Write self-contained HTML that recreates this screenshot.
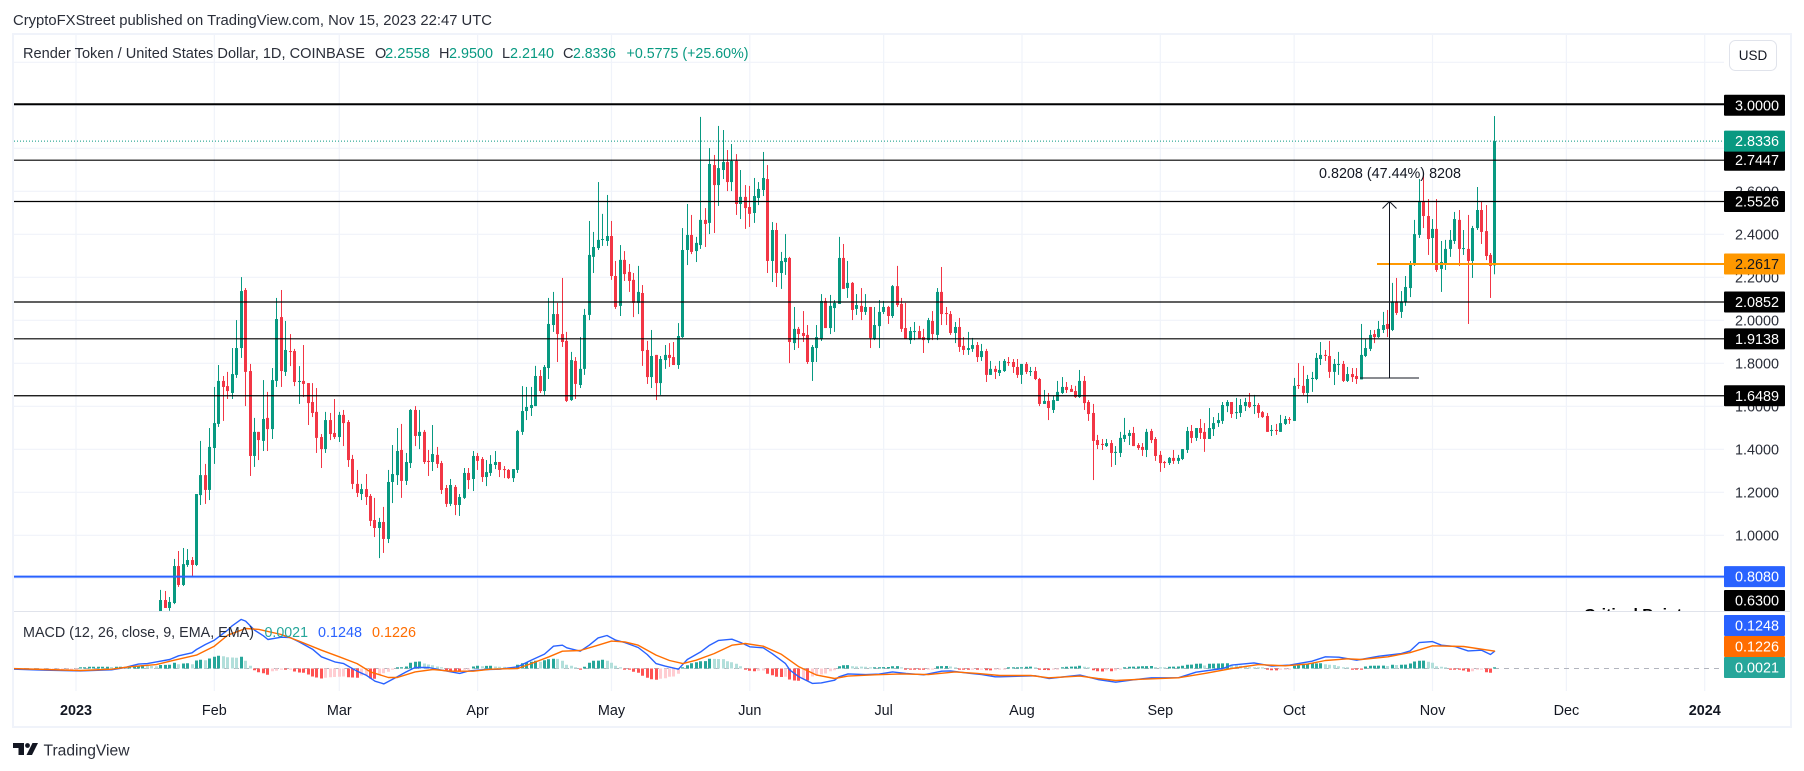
<!DOCTYPE html>
<html lang="en">
<head>
<meta charset="utf-8">
<title>Render Token / United States Dollar</title>
<style>
html,body{margin:0;padding:0;background:#fff;width:1804px;height:771px;overflow:hidden}
svg{display:block;font-family:"Liberation Sans",Arial,sans-serif}
</style>
</head>
<body>
<svg id="chart" width="1804" height="771" viewBox="0 0 1804 771" xmlns="http://www.w3.org/2000/svg">
  <defs>
    <clipPath id="mainClip"><rect x="14" y="35" width="1710" height="576"/></clipPath>
    <clipPath id="macdClip"><rect x="14" y="612" width="1710" height="80"/></clipPath>
  </defs>
  <rect x="0" y="0" width="1804" height="771" fill="#ffffff"/>
  <text x="13" y="25" font-size="14.5" fill="#2a2e39" textLength="479" lengthAdjust="spacingAndGlyphs">CryptoFXStreet published on TradingView.com, Nov 15, 2023 22:47 UTC</text>

  <g id="gridLayer"></g>
  <g id="candleLayer" clip-path="url(#mainClip)"></g>
  <g id="levelLayer" clip-path="url(#mainClip)"></g>
  <g id="measureLayer" clip-path="url(#mainClip)"></g>
  <text x="1584" y="619" font-size="15" font-weight="700" fill="#000000" textLength="98" lengthAdjust="spacingAndGlyphs" clip-path="url(#mainClip)">Critical Point</text>

  <g id="histLayer" clip-path="url(#macdClip)"></g>
  <g id="macdLayer" clip-path="url(#macdClip)"></g>

  <rect x="12" y="33" width="1780" height="2" fill="#f0f3fa"/>
  <rect x="12" y="33" width="2" height="695" fill="#f0f3fa"/>
  <rect x="1790" y="33" width="2" height="695" fill="#f0f3fa"/>
  <rect x="12" y="726" width="1780" height="2" fill="#f0f3fa"/>
  <rect x="14" y="611" width="1776" height="1" fill="#e0e3eb"/>

  <g id="axisLayer"></g>
  <g id="labelLayer"></g>

  <g font-size="14.5">
    <text x="23" y="58" fill="#2a2e39" textLength="342" lengthAdjust="spacingAndGlyphs">Render Token / United States Dollar, 1D, COINBASE</text>
    <text x="375" y="58" fill="#2a2e39">O</text>
    <text x="385" y="58" fill="#089981" textLength="45" lengthAdjust="spacingAndGlyphs">2.2558</text>
    <text x="439" y="58" fill="#2a2e39">H</text>
    <text x="449" y="58" fill="#089981" textLength="44" lengthAdjust="spacingAndGlyphs">2.9500</text>
    <text x="502" y="58" fill="#2a2e39">L</text>
    <text x="510" y="58" fill="#089981" textLength="44" lengthAdjust="spacingAndGlyphs">2.2140</text>
    <text x="563" y="58" fill="#2a2e39">C</text>
    <text x="573" y="58" fill="#089981" textLength="43" lengthAdjust="spacingAndGlyphs">2.8336</text>
    <text x="626.5" y="58" fill="#089981" textLength="122" lengthAdjust="spacingAndGlyphs">+0.5775 (+25.60%)</text>
  </g>
  <g font-size="14.5">
    <text x="23" y="637" fill="#2a2e39" textLength="231" lengthAdjust="spacingAndGlyphs">MACD (12, 26, close, 9, EMA, EMA)</text>
    <text x="264.5" y="637" fill="#26a69a" textLength="43.5" lengthAdjust="spacingAndGlyphs">0.0021</text>
    <text x="318" y="637" fill="#2962ff" textLength="44" lengthAdjust="spacingAndGlyphs">0.1248</text>
    <text x="372" y="637" fill="#ff6d00" textLength="44" lengthAdjust="spacingAndGlyphs">0.1226</text>
  </g>

  <g>
    <rect x="1729.5" y="40.5" width="47" height="30" rx="6" fill="#ffffff" stroke="#e0e3eb"/>
    <text x="1753" y="60" font-size="13.5" fill="#131722" text-anchor="middle">USD</text>
  </g>

  <g font-size="14.4" text-anchor="middle" fill="#ffffff">
    <rect x="1724" y="615" width="61" height="21" rx="1" fill="#2962ff"/>
    <text x="1757" y="630.5">0.1248</text>
    <rect x="1724" y="636" width="61" height="21" rx="1" fill="#ff6d00"/>
    <text x="1757" y="651.5">0.1226</text>
    <rect x="1724" y="657" width="61" height="21" rx="1" fill="#26a69a"/>
    <text x="1757" y="672.5">0.0021</text>
  </g>

  <g>
    <polygon points="13,743 24,743 24,755 18.5,755 18.5,748 13,748" fill="#131722"/>
    <circle cx="27.5" cy="745.5" r="2.4" fill="#131722"/>
    <polygon points="32.5,743 38,743 32,755 26.5,755" fill="#131722"/>
    <text x="43.5" y="755.5" font-size="15.5" fill="#2a2e39" textLength="86" lengthAdjust="spacingAndGlyphs">TradingView</text>
  </g>
</svg>
<script>
// ---- Data ----
const firstCandleDay = 15; // days since 2023-01-01 of the first entry below
const opens = [
.55,.56,.55,.58,.606,
.699,.662,.685,.857,.769,.862,.885,.862,1.187,1.280,
1.211,1.406,1.518,1.718,1.694,1.662,1.746,1.871,2.141,1.764,
1.369,1.481,1.439,1.546,1.494,1.718,2.015,1.760,1.857,1.857,
1.713,1.718,1.708,1.620,1.574,1.457,1.401,1.536,1.476,1.457,
1.560,1.527,1.355,1.239,1.192,1.215,1.183,1.071,1.034,1.062,
.983,1.248,1.280,1.397,1.253,1.336,1.583,1.462,1.481,1.346,
1.341,1.374,1.336,1.220,1.146,1.225,1.141,1.174,1.290,1.262,
1.369,1.355,1.271,1.290,1.327,1.341,1.308,1.304,1.266,1.304,
1.481,1.578,1.592,1.601,1.741,1.671,1.778,1.978,2.029,1.936,
1.904,1.629,1.811,1.699,1.774,2.025,2.295,2.336,2.374,2.369,
2.392,2.206,2.067,2.281,2.225,2.188,2.081,2.127,1.862,1.736,
1.839,1.708,1.815,1.839,1.829,1.792,1.922,2.327,2.397,2.322,
2.350,2.467,2.453,2.722,2.629,2.699,2.736,2.643,2.741,2.541,
2.574,2.527,2.499,2.569,2.606,2.657,2.276,2.420,2.220,2.271,
2.290,1.894,1.960,1.941,1.932,1.806,1.871,1.913,2.090,1.964,
2.057,2.076,2.290,2.150,2.174,2.053,2.067,2.039,2.062,1.913,
1.973,2.039,2.062,2.020,2.159,2.076,1.964,1.908,1.946,1.950,
1.922,1.908,1.997,1.932,2.132,2.034,2.029,1.941,1.969,1.881,
1.862,1.867,1.885,1.829,1.857,1.746,1.774,1.755,1.764,1.806,
1.806,1.783,1.746,1.797,1.760,1.764,1.727,1.611,1.625,1.583,
1.625,1.662,1.690,1.681,1.671,1.643,1.718,1.620,1.569,1.443,
1.425,1.415,1.429,1.383,1.383,1.448,1.462,1.476,1.420,1.411,
1.397,1.485,1.448,1.374,1.341,1.336,1.360,1.346,1.355,1.397,
1.485,1.453,1.499,1.481,1.448,1.494,1.522,1.532,1.601,1.620,
1.569,1.569,1.601,1.620,1.601,1.606,1.573,1.555,1.485,1.490,
1.481,1.518,1.541,1.532,1.699,1.695,1.662,1.727,1.727,1.820,
1.839,1.834,1.760,1.792,1.797,1.718,1.750,1.741,1.725,1.834,
1.867,1.936,1.922,1.955,1.983,1.955,2.088,2.039,2.085,2.150,
2.257,2.397,2.555,2.485,2.383,2.425,2.239,2.266,2.332,2.369,
2.467,2.332,2.332,2.276,2.429,2.513,2.415,2.304,2.2558];
const highs = [
.645,.62,.62,.63,.746,
.741,.713,.890,.927,.941,.936,.899,1.192,1.439,1.332,
1.499,1.690,1.792,1.741,1.760,1.871,2.001,2.201,2.150,1.797,
1.546,1.481,1.722,1.667,1.778,2.104,2.141,1.997,1.936,1.867,
1.787,1.885,1.708,1.708,1.685,1.471,1.574,1.569,1.634,1.574,
1.583,1.536,1.374,1.304,1.239,1.285,1.192,1.174,1.081,1.132,
1.304,1.420,1.499,1.518,1.383,1.587,1.601,1.583,1.490,1.397,
1.513,1.411,1.346,1.234,1.262,1.234,1.192,1.313,1.313,1.392,
1.383,1.364,1.350,1.373,1.392,1.341,1.322,1.308,1.308,1.490,
1.694,1.690,1.690,1.788,1.769,1.792,2.104,2.132,2.081,2.197,
1.946,1.853,1.829,1.922,2.053,2.462,2.411,2.643,2.495,2.583,
2.462,2.276,2.350,2.322,2.262,2.220,2.253,2.164,1.904,1.955,
1.839,1.834,1.885,1.894,1.899,1.987,2.429,2.541,2.490,2.388,
2.946,2.522,2.801,2.769,2.904,2.885,2.792,2.820,2.773,2.699,
2.629,2.625,2.662,2.643,2.783,2.722,2.457,2.453,2.318,2.401,
2.295,2.062,1.969,2.043,1.978,1.885,1.978,2.122,2.104,2.118,
2.094,2.388,2.355,2.276,2.178,2.122,2.150,2.122,2.062,2.062,
2.094,2.090,2.067,2.164,2.253,2.104,2.081,1.969,1.992,1.974,
1.960,2.011,2.043,2.150,2.248,2.062,2.043,1.992,2.011,1.922,
1.946,1.918,1.899,1.890,1.867,1.811,1.788,1.811,1.820,1.829,
1.820,1.820,1.797,1.806,1.783,1.783,1.732,1.676,1.662,1.648,
1.718,1.736,1.713,1.699,1.695,1.769,1.741,1.629,1.611,1.467,
1.448,1.448,1.443,1.415,1.481,1.546,1.490,1.504,1.429,1.429,
1.495,1.495,1.457,1.392,1.346,1.364,1.397,1.374,1.401,1.504,
1.513,1.499,1.541,1.522,1.592,1.550,1.569,1.620,1.629,1.620,
1.639,1.634,1.639,1.662,1.653,1.615,1.578,1.569,1.513,1.518,
1.560,1.555,1.550,1.732,1.801,1.788,1.746,1.760,1.848,1.899,
1.862,1.904,1.820,1.853,1.811,1.783,1.778,1.778,1.983,1.913,
1.955,1.955,1.997,2.039,2.048,2.174,2.197,2.136,2.206,2.276,
2.467,2.657,2.676,2.564,2.471,2.564,2.369,2.374,2.420,2.504,
2.513,2.420,2.490,2.439,2.620,2.555,2.536,2.313,2.95];
const lows = [
.50,.50,.52,.54,.58,
.662,.649,.680,.760,.764,.853,.806,.857,1.141,1.146,
1.164,1.332,1.504,1.532,1.634,1.634,1.732,1.825,1.601,1.276,
1.318,1.350,1.392,1.392,1.448,1.690,1.690,1.741,1.787,1.694,
1.611,1.643,1.513,1.550,1.383,1.313,1.383,1.443,1.448,1.434,
1.415,1.318,1.215,1.178,1.164,1.141,1.043,.992,.894,.918,
.964,1.150,1.234,1.174,1.234,1.313,1.415,1.401,1.332,1.276,
1.299,1.313,1.192,1.132,1.136,1.094,1.090,1.169,1.215,1.206,
1.304,1.248,1.229,1.276,1.308,1.271,1.266,1.262,1.248,1.290,
1.467,1.536,1.555,1.601,1.662,1.653,1.727,1.946,1.806,1.876,
1.620,1.625,1.634,1.685,1.746,2.001,2.220,2.327,2.346,2.346,
2.188,2.053,2.020,2.183,2.132,2.015,2.029,1.788,1.704,1.685,
1.629,1.653,1.774,1.783,1.792,1.774,1.918,2.257,2.308,2.271,
2.332,2.341,2.401,2.406,2.532,2.657,2.601,2.601,2.490,2.471,
2.425,2.434,2.453,2.536,2.578,2.220,2.178,2.155,2.146,2.211,
1.801,1.862,1.871,1.899,1.797,1.718,1.806,1.904,1.964,1.936,
1.946,2.076,2.146,2.104,2.001,2.025,2.001,2.025,1.871,1.908,
1.871,2.029,1.983,2.011,2.062,1.946,1.913,1.890,1.908,1.913,
1.848,1.894,1.908,1.908,1.978,1.978,1.932,1.894,1.853,1.839,
1.839,1.853,1.806,1.811,1.713,1.746,1.727,1.741,1.760,1.788,
1.755,1.732,1.704,1.750,1.741,1.722,1.601,1.611,1.536,1.569,
1.625,1.657,1.662,1.667,1.639,1.639,1.583,1.532,1.257,1.401,
1.397,1.411,1.318,1.327,1.364,1.434,1.420,1.415,1.397,1.369,
1.364,1.429,1.346,1.295,1.313,1.327,1.332,1.332,1.350,1.383,
1.429,1.439,1.448,1.388,1.448,1.462,1.504,1.518,1.573,1.546,
1.541,1.550,1.578,1.592,1.564,1.546,1.546,1.481,1.462,1.467,
1.481,1.513,1.518,1.532,1.681,1.653,1.615,1.667,1.722,1.792,
1.811,1.732,1.699,1.746,1.713,1.713,1.713,1.704,1.725,1.829,
1.857,1.894,1.918,1.941,1.922,1.950,2.025,2.011,2.067,2.108,
2.253,2.383,2.429,2.304,2.257,2.225,2.132,2.234,2.295,2.355,
2.253,2.304,1.983,2.197,2.420,2.355,2.280,2.104,2.214];
const closes = [
.56,.55,.58,.606,.699,
.662,.690,.857,.769,.866,.885,.862,1.192,1.280,1.211,
1.411,1.522,1.718,1.690,1.671,1.750,1.871,2.136,1.760,1.369,
1.481,1.443,1.541,1.494,1.722,2.006,1.764,1.862,1.853,1.713,
1.718,1.704,1.615,1.569,1.453,1.401,1.536,1.471,1.457,1.560,
1.522,1.350,1.239,1.197,1.215,1.178,1.067,1.034,1.062,.983,
1.248,1.285,1.392,1.253,1.341,1.583,1.462,1.481,1.341,1.341,
1.378,1.332,1.211,1.146,1.234,1.141,1.178,1.290,1.257,1.369,
1.346,1.271,1.294,1.332,1.341,1.304,1.304,1.266,1.308,1.485,
1.578,1.597,1.606,1.741,1.671,1.783,1.983,2.029,1.936,1.899,
1.625,1.815,1.704,1.774,2.025,2.304,2.341,2.374,2.378,2.392,
2.206,2.062,2.281,2.215,2.183,2.081,2.132,1.857,1.736,1.834,
1.708,1.820,1.839,1.825,1.792,1.927,2.327,2.397,2.318,2.360,
2.467,2.448,2.727,2.629,2.708,2.736,2.643,2.741,2.541,2.574,
2.522,2.495,2.578,2.611,2.662,2.276,2.420,2.220,2.276,2.290,
1.899,1.960,1.936,1.927,1.806,1.876,1.922,2.090,1.964,2.067,
2.081,2.290,2.146,2.174,2.048,2.071,2.039,2.062,1.918,1.978,
2.039,2.062,2.020,2.159,2.071,1.960,1.913,1.950,1.950,1.913,
1.908,2.001,1.936,2.132,2.029,2.029,1.941,1.969,1.876,1.862,
1.871,1.885,1.829,1.857,1.746,1.774,1.760,1.769,1.811,1.801,
1.783,1.746,1.797,1.760,1.764,1.727,1.611,1.625,1.592,1.629,
1.667,1.690,1.676,1.667,1.643,1.718,1.615,1.564,1.439,1.420,
1.420,1.429,1.383,1.388,1.453,1.467,1.476,1.415,1.406,1.397,
1.481,1.443,1.369,1.336,1.336,1.360,1.346,1.360,1.401,1.485,
1.453,1.499,1.476,1.448,1.499,1.522,1.536,1.606,1.620,1.564,
1.573,1.606,1.620,1.597,1.606,1.569,1.550,1.481,1.490,1.485,
1.522,1.541,1.536,1.695,1.695,1.662,1.727,1.732,1.825,1.839,
1.834,1.760,1.797,1.797,1.718,1.750,1.736,1.727,1.839,1.871,
1.932,1.922,1.960,1.978,1.960,2.088,2.034,2.088,2.155,2.262,
2.401,2.555,2.485,2.378,2.425,2.234,2.271,2.332,2.374,2.471,
2.332,2.336,2.276,2.429,2.513,2.411,2.299,2.253,2.8336];

const firstHistDay = -14;
const histValues = [
-.001,-.001,-.001,-.001,-.001,-.001,-.001,-.001,-.001,-.001,-.001,-.001,-.001,-.001,
-.001,.003,.003,.007,.007,.007,.007,.007,.006,.007,
.007,.006,.008,.009,.011,.013,.011,.010,.009,.014,
.0145,.015,.023,.017,.020,.021,.017,.032,.035,.033,
.040,.047,.051,.049,.045,.044,.043,.047,.031,.011,
-.007,-.015,-.019,-.025,-.011,-.009,-.004,-.005,-.004,-.012,
-.016,-.017,-.024,-.032,-.036,-.040,-.037,-.035,-.034,-.033,
-.032,-.035,-.036,-.037,-.028,-.027,-.040,-.041,-.024,-.019,
-.013,-.004,.004,.005,.008,.023,.027,.028,.020,.016,
.013,.008,.005,-.007,-.009,-.012,-.013,-.005,-.003,.008,
.011,.009,.0105,.011,.008,.007,.0065,.004,.002,.015,
.021,.024,.027,.031,.027,.033,.037,.039,.0385,.031,
.015,.011,.005,-.003,.007,.023,.031,.0315,.035,.031,
.023,.011,.005,-.001,-.004,-.013,-.017,-.029,-.037,-.043,
-.045,-.041,-.039,-.033,-.032,-.021,.001,.013,.021,.025,
.029,.0295,.039,.0385,.038,.0375,.029,.025,.019,.009,
-.001,-.009,-.011,-.009,-.008,-.021,-.027,-.033,-.034,-.033,
-.044,-.048,-.049,-.040,-.048,-.032,-.027,-.024,-.020,-.011,
-.007,.009,.013,.0135,.009,.008,.0075,.007,.001,.002,
.005,.0055,.006,.009,.0095,.004,-.001,-.003,-.0035,-.004,
-.005,-.003,-.001,.009,.0095,.010,.008,.004,-.003,-.0035,
-.005,-.003,-.005,-.003,-.007,-.0075,-.004,-.002,-.002,.001,
.002,.002,.004,.007,.0075,.005,-.005,-.006,-.0065,-.003,
-.002,.001,.007,.0075,.008,.011,.007,.005,-.007,-.011,
-.012,-.007,-.011,-.008,-.004,.001,.007,.0075,.008,.009,
.0095,.010,.006,.005,.004,.007,.0075,.008,.011,.015,
.0155,.019,.0195,.012,.019,.0195,.020,.0205,.021,.016,
.013,.011,.007,.005,.004,.003,.002,-.003,-.007,-.0075,
-.004,-.003,-.002,.011,.013,.016,.017,.020,.0205,.021,
.017,.015,.014,.009,.005,.001,-.001,-.0012,-.0014,.008,
.011,.0112,.0114,.0116,.010,.015,.014,.015,.0155,.020,
.028,.031,.0315,.027,.023,.009,.007,.001,-.001,-.0012,
-.003,-.008,-.013,-.011,-.005,-.004,-.015,-.017,.0021];

const macdDays = [-14,-7,1,8,11,14,16,18,21,23,26,27,29,31,34,35,37,38,40,42,43,46,48,50,53,55,58,60,63,65,67,69,72,74,76,79,82,86,88,92,95,99,102,105,107,109,110,113,115,117,119,121,123,126,128,130,132,135,137,140,142,144,147,149,151,154,156,159,160,162,165,167,170,171,173,177,180,183,186,190,194,196,200,203,206,207,215,218,225,229,233,237,241,247,251,257,259,264,268,272,277,280,283,287,292,297,299,301,304,306,309,312,315,317,318];
const macdValues = [-.005,-.012,-.017,-.009,.007,.031,.035,.047,.064,.090,.111,.135,.170,.201,.272,.303,.348,.336,.272,.232,.206,.222,.220,.189,.137,.083,.047,.035,-.019,-.047,-.090,-.109,-.059,-.024,.007,.007,-.012,-.035,-.017,-.007,-.005,.012,.059,.102,.158,.165,.147,.123,.165,.217,.234,.201,.184,.149,.099,.035,.017,-.005,.064,.118,.165,.199,.208,.184,.154,.147,.106,.035,-.012,-.059,-.106,-.102,-.083,-.059,-.038,-.043,-.040,-.024,-.035,-.045,-.019,-.017,-.033,-.043,-.059,-.059,-.052,-.071,-.047,-.078,-.097,-.080,-.066,-.066,-.026,0,.024,.040,.017,.024,.052,.083,.080,.059,.087,.106,.125,.184,.191,.165,.156,.125,.130,.099,.1248];
const signalDays = [-14,-7,1,8,12,18,22,27,31,34,38,41,46,50,55,59,63,66,70,72,76,80,84,89,93,99,102,106,109,113,117,120,123,126,130,133,136,139,143,147,150,154,158,162,166,170,173,179,185,191,197,202,207,214,218,225,229,233,239,247,253,259,265,271,276,280,285,288,294,299,304,311,318];
const signalValues = [0,-.007,-.014,-.005,.012,.028,.059,.095,.158,.236,.284,.277,.241,.194,.130,.083,.035,-.024,-.064,-.064,-.024,-.007,-.019,-.019,-.005,0,.035,.083,.123,.128,.165,.194,.189,.165,.095,.057,.035,.059,.106,.165,.177,.158,.102,.012,-.047,-.071,-.054,-.045,-.038,-.043,-.024,-.035,-.050,-.050,-.066,-.054,-.071,-.085,-.076,-.066,-.035,0,.028,.019,.031,.057,.069,.064,.083,.113,.161,.156,.1226];

const monthDays = [0,31,59,90,120,151,181,212,243,273,304,334,365];
const monthLabels = ['2023','Feb','Mar','Apr','May','Jun','Jul','Aug','Sep','Oct','Nov','Dec','2024'];
const priceTicks = [3.2,3.0,2.8,2.6,2.4,2.2,2.0,1.8,1.6,1.4,1.2,1.0,0.8];
const priceLabelTicks = [2.6,2.4,2.2,2.0,1.8,1.6,1.4,1.2,1.0];
const blackLevels = [3.0,2.7447,2.5526,2.0852,1.9138,1.6489];
const blueLevel = 0.808;
const orangeLevel = 2.2617;
const lastPrice = 2.8336;
const hiddenLevel = 0.63;
const measureFrom = 1.7318;
const measureTo = 2.5526;
const measureText = '0.8208 (47.44%) 8208';

// ---- Axis functions ----
function xDay(d){ return 76 + 4.4622 * d; }
function yPrice(p){ return 535.3 - (p - 1) * 215; }
function yMacd(v){ return 668.5 - v * 141; }
function yHist(v){ return 668.5 - v * 250; }
function snap(x){ return Math.floor(x) + 0.5; }

const NS = 'http://www.w3.org/2000/svg';
function mk(tag, parent, attrs, text){
  const el = document.createElementNS(NS, tag);
  for (const k in attrs) el.setAttribute(k, attrs[k]);
  if (text !== undefined) el.textContent = text;
  parent.appendChild(el);
  return el;
}
const gridLayer = document.getElementById('gridLayer');
const candleLayer = document.getElementById('candleLayer');
const levelLayer = document.getElementById('levelLayer');
const measureLayer = document.getElementById('measureLayer');
const histLayer = document.getElementById('histLayer');
const macdLayer = document.getElementById('macdLayer');
const axisLayer = document.getElementById('axisLayer');
const labelLayer = document.getElementById('labelLayer');

// Grid
priceTicks.forEach(function(p){
  const el = mk('line', gridLayer, {x1:14, x2:1724, y1:yPrice(p), y2:yPrice(p), stroke:'#f0f3fa', 'stroke-width':1.2});
  
  
});
monthDays.forEach(function(d){
  const el = mk('line', gridLayer, {x1:xDay(d), x2:xDay(d), y1:35, y2:691, stroke:'#f0f3fa', 'stroke-width':1.2});
  
  
});

// Candles
opens.forEach(function(o, i){
  const h = highs[i], l = lows[i], c = closes[i];
  const col = c >= o ? '#089981' : '#f23645';
  const cx = snap(xDay(firstCandleDay + i));
  const g = mk('g', candleLayer, {fill:col});
  
  
  mk('rect', g, {x:cx - 0.5, y:yPrice(h), width:1, height:Math.max(yPrice(l) - yPrice(h), 1)});
  const top = yPrice(Math.max(o, c)), bot = yPrice(Math.min(o, c));
  mk('rect', g, {x:cx - 1.5, y:top, width:3, height:Math.max(bot - top, 1)});
});

// Horizontal levels
const lastLine = mk('line', levelLayer, {x1:14, x2:1724, y1:yPrice(lastPrice), y2:yPrice(lastPrice), stroke:'#089981', 'stroke-width':1, 'stroke-dasharray':'1 2'});


blackLevels.forEach(function(v, i){
  const el = mk('line', levelLayer, {x1:14, x2:1724, y1:i === 0 ? yPrice(v) - 1 : yPrice(v), y2:i === 0 ? yPrice(v) - 1 : yPrice(v), stroke:'#000000', 'stroke-width':i === 0 ? 2 : 1.2});
  
  
});
const blueLine = mk('line', levelLayer, {x1:14, x2:1724, y1:yPrice(blueLevel), y2:yPrice(blueLevel), stroke:'#2962ff', 'stroke-width':2});


const orangeLine = mk('line', levelLayer, {x1:1377, x2:1724, y1:yPrice(orangeLevel), y2:yPrice(orangeLevel), stroke:'#ff9800', 'stroke-width':2});



// Measure tool
const mTop = yPrice(measureTo), mBot = yPrice(measureFrom);
const mStem = mk('line', measureLayer, {x1:1389.5, x2:1389.5, y1:mTop, y2:mBot, stroke:'#131722', 'stroke-width':1});


const mHead = mk('polyline', measureLayer, {points:(1382.5)+','+(mTop+7)+' 1389.5,'+mTop+' '+(1396.5)+','+(mTop+7), fill:'none', stroke:'#131722', 'stroke-width':1});


const mBase = mk('line', measureLayer, {x1:1360, x2:1419, y1:mBot, y2:mBot, stroke:'#131722', 'stroke-width':1});


const mText = mk('text', measureLayer, {x:1319, y:178, 'font-size':14.4, fill:'#131722', textLength:142, lengthAdjust:'spacingAndGlyphs'}, measureText);



// MACD histogram
const zeroLine = mk('line', histLayer, {x1:14, x2:1724, y1:yHist(0), y2:yHist(0), stroke:'#b2b5be', 'stroke-width':1, 'stroke-dasharray':'5 5'});


histValues.forEach(function(v, i){
  const prev = i > 0 ? histValues[i - 1] : v;
  const col = v >= 0 ? (v >= prev ? '#26a69a' : '#b2dfdb') : (v < prev ? '#ff5252' : '#ffcdd2');
  const cx = snap(xDay(firstHistDay + i));
  const y0 = yHist(0), y1 = yHist(v);
  const hgt = Math.max(Math.abs(y1 - y0), 1.2);
  const el = mk('rect', histLayer, {x:cx - 1.5, y:v >= 0 ? y0 - hgt : y0, width:3, height:hgt, fill:col});
  
  
});

// MACD lines
function pts(days, vals){
  return days.map(function(d, i){ return xDay(d).toFixed(1) + ',' + yMacd(vals[i]).toFixed(1); }).join(' ');
}
const macdLine = mk('polyline', macdLayer, {points:pts(macdDays, macdValues), fill:'none', stroke:'#2962ff', 'stroke-width':1.4, 'stroke-linejoin':'round'});


const signalLine = mk('polyline', macdLayer, {points:pts(signalDays, signalValues), fill:'none', stroke:'#ff6d00', 'stroke-width':1.4, 'stroke-linejoin':'round'});



// Axes
monthDays.forEach(function(d, i){
  const isYear = monthLabels[i].length === 4;
  const el = mk('text', axisLayer, {x:xDay(d), y:715, 'font-size':14.4, 'text-anchor':'middle', fill:'#131722', 'font-weight':isYear ? 700 : 400}, monthLabels[i]);
  
  
});
priceLabelTicks.forEach(function(p){
  const el = mk('text', axisLayer, {x:1757, y:yPrice(p) + 5, 'font-size':14.4, 'text-anchor':'middle', fill:'#2a2e39'}, p.toFixed(4));
  
  
});

// Price tags
function tag(v, bg, fg){
  const cy = Math.min(yPrice(v), 600.5);
  const box = mk('rect', labelLayer, {x:1724, y:cy - 10.5, width:61, height:21, rx:1, fill:bg});
  
  
  const t = mk('text', labelLayer, {x:1757, y:cy + 5, 'font-size':14.4, 'text-anchor':'middle', fill:fg}, v.toFixed(4));
  
  
}
blackLevels.forEach(function(v){ tag(v, '#000000', '#ffffff'); });
tag(lastPrice, '#089981', '#ffffff');
tag(orangeLevel, '#ff9800', '#131722');
tag(blueLevel, '#2962ff', '#ffffff');
tag(hiddenLevel, '#000000', '#ffffff');
</script>
</body>
</html>
